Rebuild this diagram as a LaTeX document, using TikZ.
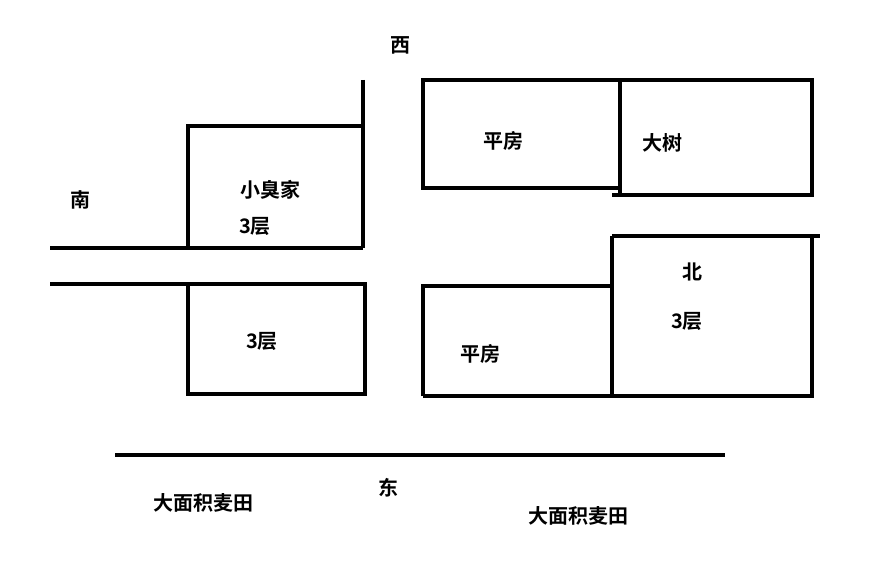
\documentclass[tikz,border=0pt]{standalone}
\usepackage{fontspec}
\newfontfamily\cjk{Noto Sans CJK SC}[BoldFont={Noto Sans CJK SC Bold}]
\begin{document}
\begin{tikzpicture}[x=1pt,y=-1pt,line width=3.5pt,
  lbl/.style={font=\cjk\bfseries\fontsize{20}{20}\selectfont,inner sep=0pt}]
\fill[white] (0,0) rectangle (886,561);
\useasboundingbox (0,0) rectangle (886,561);
% left buildings
\draw (363,80) -- (363,248);
\draw (188,248) -- (188,126) -- (363,126);
\draw (50,248) -- (363,248);
\draw (50,284) -- (365,284) -- (365,394) -- (188,394) -- (188,284);
% right upper
\draw (423,80) rectangle (620,188);
\draw (620,80) -- (812,80) -- (812,195) -- (612,195);
\draw (620,80) -- (620,195);
% right lower
\draw (423,396) -- (423,286) -- (612,286);
\draw (612,236) -- (820,236);
\draw (612,236) -- (612,396);
\draw (423,396) -- (812,396) -- (812,236);
% bottom road
\draw (115,455) -- (725,455);
% labels
\node[lbl] (w) at (400,45) {西};
\node[lbl] (s) at (80,200) {南};
\node[lbl] (x) at (270,190) {小臭家};
\node[lbl] (x3) at (255,226) {3层};
\node[lbl] (l3) at (262,341) {3层};
\node[lbl] (p1) at (503,141) {平房};
\node[lbl] (t) at (662,143) {大树};
\node[lbl] (n) at (692,272) {北};
\node[lbl] (n3) at (687,321) {3层};
\node[lbl] (p2) at (480,354) {平房};
\node[lbl] (e) at (388,488) {东};
\node[lbl] (f1) at (203,503) {大面积麦田};
\node[lbl] (f2) at (578,516) {大面积麦田};
\end{tikzpicture}
\end{document}
